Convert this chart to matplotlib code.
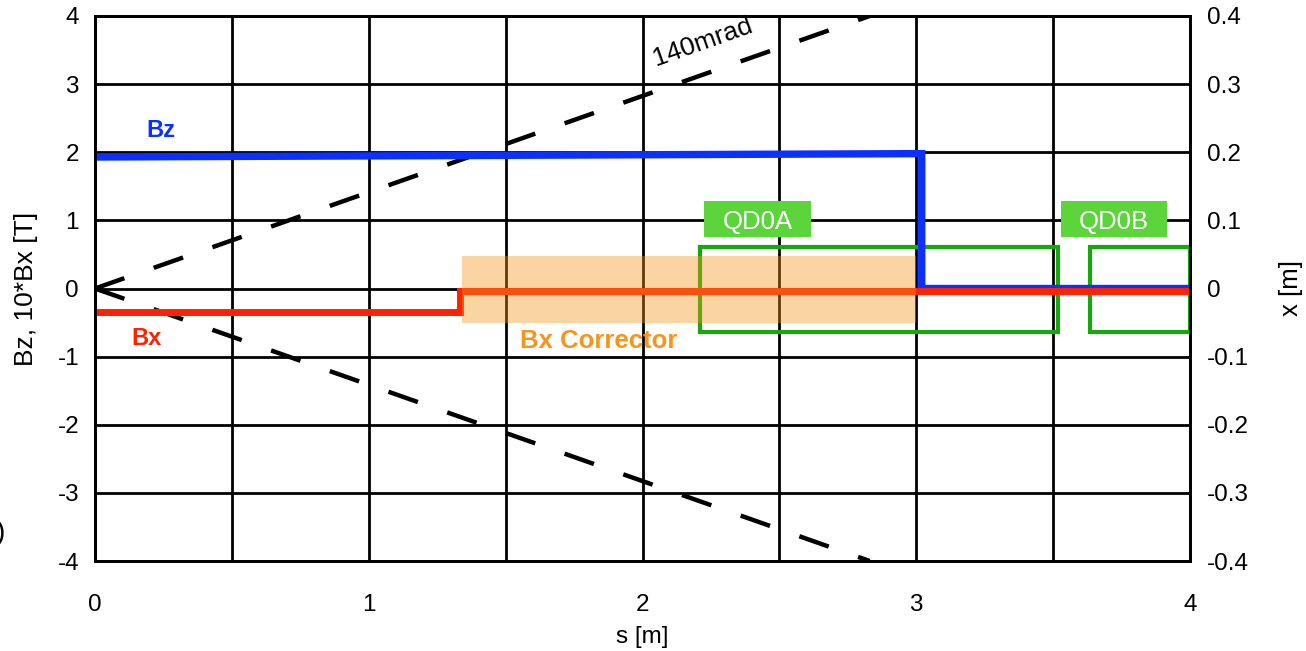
import numpy as np
import matplotlib
matplotlib.use('Agg')
import matplotlib.pyplot as plt
from matplotlib.patches import Rectangle

plt.rcParams['font.family'] = ['Liberation Sans', 'DejaVu Sans']
plt.rcParams['axes.unicode_minus'] = False

# ── data ────────────────────────────────────────────────────────────────
# field profiles along s  (left axis: Bz, 10*Bx [T])
s_bz = [0.0, 3.02, 3.02, 4.0]
bz = [1.93, 1.98, 0.0, 0.0]
s_bx = [0.0, 1.335, 1.335, 4.0]
bx10 = [-0.34, -0.34, -0.03, -0.03]

# 140 mrad cone edges  (right axis: x [m])
s_cone = [0.0, 2.83]
x_cone_up = [0.0, 0.40]
x_cone_dn = [0.0, -0.40]

# Bx corrector band (s range, left-axis range)
corr_s = [1.342, 3.0]
corr_y = [-0.50, 0.47]

# quadrupole apertures (right axis, m)
quad_names = ['QD0A', 'QD0B']
quad_s0 = [2.21, 3.633]
quad_s1 = [3.516, 4.0]
quad_x0 = [-0.064, -0.064]
quad_x1 = [0.061, 0.061]

s_ticks = [0, 1, 2, 3, 4]
s_grid = [0.5, 1.5, 2.5, 3.5]
left_ticks = [-4, -3, -2, -1, 0, 1, 2, 3, 4]
right_ticks = [-0.4, -0.3, -0.2, -0.1, 0, 0.1, 0.2, 0.3, 0.4]
right_labels = ['-0.4', '-0.3', '-0.2', '-0.1', '0', '0.1', '0.2', '0.3', '0.4']

BLUE = '#0b30ff'
RED = '#ff2200'
ORANGE = '#f7941d'
GREEN = '#17a80c'
LGREEN = '#5cd43b'

fig = plt.figure(figsize=(13.06, 6.51), dpi=100)
ax = fig.add_axes([95 / 1306, 90 / 651, 1095 / 1306, 545 / 651])
ax2 = ax.twinx()

ax.set_xlim(0, 4)
ax.set_ylim(-4, 4)
ax2.set_ylim(-0.4, 0.4)

# grid
ax.set_axisbelow(True)
ax.set_xticks(s_ticks)
ax.set_xticklabels([str(t) for t in s_ticks])
ax.set_xticks(s_grid, minor=True)
ax.set_yticks(left_ticks)
ax.set_yticklabels([str(t) for t in left_ticks])
ax2.set_yticks(right_ticks)
ax2.set_yticklabels(right_labels)
ax.grid(True, which='both', color='black', lw=2)
ax.tick_params(which='both', length=0)
ax2.tick_params(which='both', length=0)
ax.tick_params(axis='x', pad=24, labelsize=17.5)
ax.tick_params(axis='y', pad=11.5, labelsize=17.5)
ax2.tick_params(axis='y', pad=12, labelsize=17.5)
for a in (ax, ax2):
    for sp in a.spines.values():
        sp.set_linewidth(2)
        sp.set_color('black')

# quad apertures (drawn in x [m] units)
for n, a0, a1, b0, b1 in zip(quad_names, quad_s0, quad_s1, quad_x0, quad_x1):
    ax.add_patch(Rectangle((a0, b0), a1 - a0, b1 - b0, fill=False,
                           edgecolor=GREEN, lw=3, zorder=3,
                           transform=ax2.transData))

# 140 mrad cone
for xc in (x_cone_up, x_cone_dn):
    ax.plot(s_cone, xc, color='black', lw=3.2, dashes=(7, 7),
            dash_capstyle='butt', transform=ax2.transData, zorder=3)

# fields
ax.plot(s_bz, bz, color=BLUE, lw=5.3, zorder=4, solid_joinstyle='miter')
ax.plot(s_bx, bx10, color=RED, lw=5, zorder=5, solid_joinstyle='miter')

# corrector band
ax.add_patch(Rectangle((corr_s[0], corr_y[0]), corr_s[1] - corr_s[0],
                       corr_y[1] - corr_y[0], facecolor=ORANGE, alpha=0.4,
                       lw=0, zorder=6))

# labels
ax.text(0.242, 2.22, 'Bz', color=BLUE, fontsize=17, fontweight='bold',
        ha='center', va='baseline', zorder=7)
ax.text(0.189, -0.83, 'Bx', color=RED, fontsize=17, fontweight='bold',
        ha='center', va='baseline', zorder=7)
ax.text(1.841, -0.88, 'Bx Corrector', color=ORANGE, fontsize=18.5,
        fontweight='bold', ha='center', va='baseline', zorder=7)
ax.text(2.221, 3.62, '140mrad', color='black', fontsize=19, rotation=19.5,
        ha='center', va='center', zorder=7)

# quad name tags
tag_s = [(2.225, 2.616), (3.529, 3.916)]
for n, (t0, t1) in zip(quad_names, tag_s):
    ax.add_patch(Rectangle((t0, 0.75), t1 - t0, 0.54, facecolor=LGREEN,
                           lw=0, zorder=7))
    ax.text((t0 + t1) / 2, 0.87, n, color='white', fontsize=18.5,
            ha='center', va='baseline', zorder=8)

ax.set_xlabel('s [m]', fontsize=17.5, labelpad=7)
ax.set_ylabel('Bz, 10*Bx [T]', fontsize=19, labelpad=14)
ax2.set_ylabel('x [m]', fontsize=18.5, labelpad=22)

# clipped character at the left edge of the original image
fig.text(0.004, 0.181, ')', ha='right', va='center', fontsize=20)

fig.savefig('out.png', dpi=100)
